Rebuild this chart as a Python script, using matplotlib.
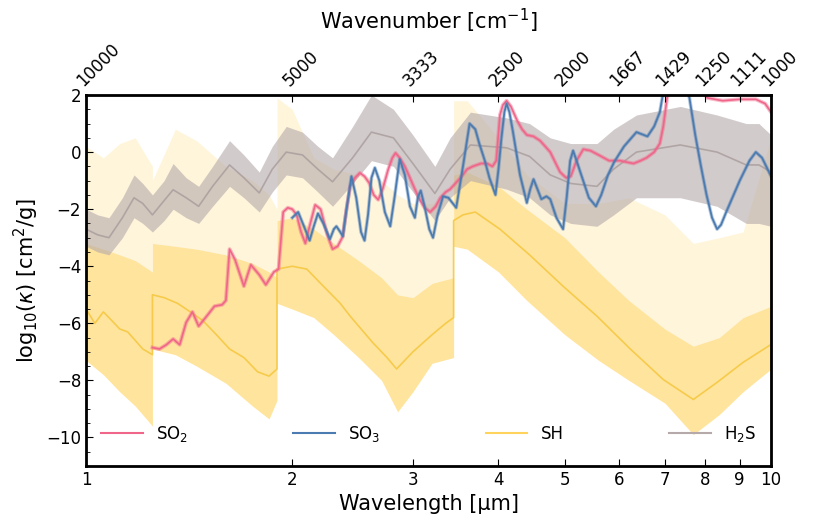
import numpy as np
import matplotlib
matplotlib.use("Agg")
import matplotlib.pyplot as plt
from matplotlib.ticker import AutoMinorLocator, FixedLocator, FixedFormatter, NullLocator

# ---------------- data ----------------
# H2S: smoothed curve and noisy band envelope
h2s_wl = [1.00, 1.04, 1.08, 1.13, 1.175, 1.21, 1.25, 1.30, 1.34, 1.40, 1.46, 1.53, 1.62, 1.70,
          1.79, 1.87, 1.96, 2.07, 2.18, 2.29, 2.45, 2.61, 2.81, 3.0, 3.23, 3.4, 3.64, 4.11,
          4.44, 4.76, 5.1, 5.57, 5.89, 6.36, 7.37, 8.34, 9.2, 9.6, 10.0]
h2s_smooth = [-2.7, -2.9, -3.0, -2.3, -1.6, -1.8, -2.2, -1.7, -1.32, -1.6, -1.9, -1.2, -0.45, -0.9,
              -1.43, -0.6, 0.0, -0.1, -0.6, -1.04, -0.2, 0.7, 0.5, -0.4, -1.45, -0.6, 0.25, 0.15,
              -0.15, -0.8, -1.1, -1.2, -0.6, 0.0, 0.25, 0.0, -0.45, -0.45, -0.7]
h2s_lo = [-3.3, -3.5, -3.6, -3.0, -2.3, -2.5, -2.8, -2.4, -2.0, -2.3, -2.5, -1.9, -1.2, -1.6,
          -2.1, -1.4, -0.8, -0.9, -1.4, -1.9, -1.1, -0.3, -0.5, -1.4, -2.4, -1.6, -1.0, -1.3,
          -1.6, -2.2, -2.5, -2.6, -2.2, -1.6, -1.6, -1.9, -2.5, -2.5, -2.6]
h2s_hi = [-2.0, -2.2, -2.3, -1.6, -0.8, -1.1, -1.5, -1.0, -0.4, -0.9, -1.2, -0.5, 0.4, -0.1,
          -0.7, 0.2, 0.9, 0.7, 0.2, -0.2, 0.9, 2.0, 1.5, 0.6, -0.5, 0.5, 1.4, 1.2,
          1.0, 0.5, 0.3, 0.3, 0.8, 1.3, 1.6, 1.3, 1.0, 1.0, 0.6]

# SO2
so2_wl = [1.25, 1.28, 1.31, 1.34, 1.37, 1.40, 1.43, 1.46, 1.50, 1.54, 1.58, 1.60, 1.62, 1.65,
          1.70, 1.74, 1.79, 1.83, 1.88, 1.91, 1.94, 1.97, 2.00, 2.03, 2.06, 2.09, 2.12, 2.16,
          2.20, 2.25, 2.29, 2.33, 2.37, 2.40, 2.43, 2.47, 2.51, 2.55, 2.59, 2.63, 2.67, 2.71,
          2.76, 2.80, 2.83, 2.87, 2.92, 2.97, 3.02, 3.07, 3.12, 3.18, 3.24, 3.29, 3.35, 3.40,
          3.46, 3.52, 3.60, 3.67, 3.77, 3.85, 3.92, 3.97, 4.02, 4.06, 4.11, 4.17, 4.26, 4.33,
          4.40, 4.50, 4.60, 4.68, 4.76, 4.85, 4.92, 5.02, 5.10, 5.20, 5.32, 5.45, 5.60, 5.80,
          6.02, 6.15, 6.30, 6.45, 6.58, 6.75, 6.88, 6.96, 7.05, 7.20, 7.60, 7.90, 8.07, 8.50,
          9.00, 9.50, 9.80, 10.0]
so2_val = [-6.85, -6.9, -6.75, -6.55, -6.75, -5.97, -5.6, -6.1, -5.75, -5.4, -5.35, -5.2, -3.4, -3.77,
           -4.7, -3.95, -4.3, -4.65, -4.2, -4.1, -2.1, -1.95, -2.0, -2.2, -2.8, -3.2, -2.6, -1.85,
           -2.0, -2.9, -3.4, -3.3, -2.96, -2.0, -1.2, -0.9, -0.73, -0.85, -1.08, -1.5, -1.67, -1.3,
           -0.62, -0.2, -0.03, -0.2, -0.5, -0.9, -1.3, -1.67, -1.95, -2.1, -1.9, -1.6, -1.4, -1.3,
           -1.1, -0.9, -0.6, -0.5, -0.4, -0.4, -0.5, -0.3, 1.3, 1.65, 1.8, 1.6, 1.1, 0.8,
           0.6, 0.55, 0.4, 0.2, 0.0, -0.4, -0.7, -0.9, -0.85, -0.3, 0.1, 0.05, -0.1, -0.3,
           -0.3, -0.35, -0.4, -0.3, -0.2, 0.0, 0.3, 0.9, 1.9, 2.6, 2.8, 2.3, 1.9, 1.8,
           1.85, 1.85, 1.7, 1.4]

# SO3
so3_wl = [2.00, 2.04, 2.08, 2.12, 2.15, 2.18, 2.22, 2.27, 2.30, 2.32, 2.35, 2.37, 2.40, 2.44,
          2.48, 2.52, 2.55, 2.58, 2.61, 2.64, 2.68, 2.73, 2.78, 2.82, 2.87, 2.92, 2.97, 3.02,
          3.05, 3.08, 3.12, 3.17, 3.21, 3.26, 3.32, 3.38, 3.47, 3.55, 3.63, 3.70, 3.75, 3.82,
          3.88, 3.96, 4.00, 4.04, 4.08, 4.11, 4.15, 4.20, 4.30, 4.40, 4.45, 4.50, 4.56, 4.62,
          4.70, 4.76, 4.86, 4.97, 5.03, 5.09, 5.14, 5.20, 5.30, 5.42, 5.55, 5.65, 5.78, 5.90,
          6.10, 6.36, 6.60, 6.75, 6.88, 6.96, 7.05, 7.35, 7.50, 7.60, 7.75, 7.90, 8.05, 8.20,
          8.34, 8.45, 8.60, 9.00, 9.30, 9.50, 9.70, 10.0]
so3_val = [-2.3, -2.1, -2.6, -3.1, -2.6, -2.15, -2.5, -3.05, -2.7, -2.6, -2.8, -2.95, -2.0, -0.85,
           -1.6, -2.8, -3.1, -2.2, -0.9, -0.55, -1.0, -2.1, -2.6, -1.6, -0.25, -0.8, -1.9, -2.3,
           -1.6, -1.35, -1.9, -2.7, -3.0, -2.2, -1.55, -1.6, -1.95, -0.5, 1.0, 0.8, 0.3, -0.3,
           -0.9, -1.5, -0.6, 0.5, 1.4, 1.7, 1.4, 0.7, -0.8, -1.78, -1.3, -0.95, -1.3, -1.65,
           -1.55, -1.65, -2.3, -2.7, -1.6, -0.3, 0.05, -0.3, -0.9, -1.6, -1.9, -1.5, -0.8, -0.35,
           0.2, 0.7, 0.55, 0.9, 1.4, 2.1, 2.6, 2.8, 2.4, 1.9, 0.6, -0.5, -1.5, -2.3,
           -2.7, -2.55, -2.1, -1.0, -0.3, 0.0, -0.2, -0.85]

# SH: smoothed curve
sh_wl = [1.00, 1.03, 1.06, 1.09, 1.12, 1.15, 1.18, 1.21, 1.25, 1.25, 1.30, 1.36, 1.42, 1.48,
         1.55, 1.62, 1.70, 1.78, 1.85, 1.90, 1.90, 2.00, 2.10, 2.20, 2.35, 2.43, 2.62, 2.75,
         2.84, 3.00, 3.20, 3.35, 3.44, 3.44, 3.55, 3.70, 4.02, 4.44, 4.97, 5.57, 6.23, 6.96,
         7.70, 8.34, 9.10, 10.0]
sh_smooth = [-5.5, -6.0, -5.6, -5.9, -6.2, -6.3, -6.6, -6.9, -7.1, -5.0, -5.1, -5.3, -5.6, -5.9,
             -6.4, -6.9, -7.2, -7.7, -7.85, -7.6, -4.1, -4.0, -4.1, -4.6, -5.3, -5.75, -6.67, -7.2,
             -7.6, -7.0, -6.4, -6.0, -5.8, -2.4, -2.2, -2.1, -2.7, -3.6, -4.7, -5.75, -6.9, -7.97,
             -8.67, -8.07, -7.37, -6.74]
# SH: band (dense core and spike tops)
shb_wl = [1.00, 1.06, 1.12, 1.18, 1.25, 1.25, 1.35, 1.45, 1.60, 1.75, 1.85, 1.90, 1.90, 2.00,
          2.15, 2.30, 2.50, 2.70, 2.85, 3.00, 3.20, 3.44, 3.44, 3.60, 4.00, 4.40, 5.00, 5.60,
          6.20, 7.00, 7.70, 8.40, 9.10, 10.0]
shb_lo = [-7.3, -7.8, -8.4, -8.9, -9.6, -6.9, -7.1, -7.5, -8.1, -8.9, -9.35, -8.7, -5.3, -5.5,
          -5.8, -6.4, -7.2, -8.0, -9.1, -8.4, -7.4, -7.2, -3.3, -3.4, -4.2, -5.2, -6.4, -7.3,
          -8.0, -8.8, -9.9, -9.2, -8.4, -7.6]
shb_hi = [-3.2, -3.4, -3.6, -3.8, -4.2, -3.2, -3.3, -3.4, -3.6, -3.9, -4.2, -4.4, -2.4, -2.3,
          -2.7, -3.2, -3.8, -4.4, -5.0, -5.1, -4.6, -4.4, -0.8, -0.7, -1.2, -2.0, -3.0, -4.2,
          -5.2, -6.2, -6.8, -6.5, -5.8, -5.4]
shb_spk = [0.2, -0.2, 0.3, 0.5, -0.5, -1.0, 0.8, 0.4, -0.5, -1.0, -1.5, -2.0, 1.9, 1.5,
           -0.2, -0.6, -0.8, -1.0, -1.5, -1.8, -1.8, -1.5, 1.8, 1.8, 0.5, -0.8, -1.8, -1.8,
           -1.6, -2.2, -3.2, -3.0, -2.8, 0.5]

legend_labels = ["SO$_2$", "SO$_3$", "SH", "H$_2$S"]
xticks_wl = [1, 2, 3, 4, 5, 6, 7, 8, 9, 10]
top_labels = ["10000", "5000", "3333", "2500", "2000", "1667", "1429", "1250", "1111", "1000"]

# ---------------- styling ----------------
c_so2 = "#F0668A"
c_so3 = "#4B7BB0"
c_sh = "#FFD35C"
c_sh_line = "#F5C842"
c_h2s = "#B5A9A9"

fig = plt.figure(figsize=(8.21, 5.23), dpi=100)
ax = fig.add_axes([0.1048, 0.109, 0.8344, 0.7093])

# SH
ax.fill_between(shb_wl, shb_hi, shb_spk, color=c_sh, alpha=0.22, lw=0)
ax.fill_between(shb_wl, shb_lo, shb_hi, color=c_sh, alpha=0.6, lw=0)
ax.plot(sh_wl, sh_smooth, color=c_sh_line, lw=1.2, alpha=0.9)

# H2S
ax.fill_between(h2s_wl, h2s_lo, h2s_hi, color=c_h2s, alpha=0.6, lw=0)
ax.plot(h2s_wl, h2s_smooth, color="#A89C9C", lw=1.2, alpha=0.8)

# SO2
ax.plot(so2_wl, so2_val, color=c_so2, lw=2.8, alpha=0.45, solid_joinstyle="round")
ax.plot(so2_wl, so2_val, color=c_so2, lw=1.2, solid_joinstyle="round")

# SO3
ax.plot(so3_wl, so3_val, color=c_so3, lw=2.6, alpha=0.4, solid_joinstyle="round")
ax.plot(so3_wl, so3_val, color=c_so3, lw=1.3, solid_joinstyle="round")

ax.set_xscale("log")
ax.set_xlim(1, 10)
ax.set_ylim(-11, 2)
ax.xaxis.set_major_locator(FixedLocator(xticks_wl))
ax.xaxis.set_major_formatter(FixedFormatter([str(v) for v in xticks_wl]))
ax.xaxis.set_minor_locator(NullLocator())
ax.yaxis.set_major_locator(FixedLocator([-10, -8, -6, -4, -2, 0, 2]))
ax.yaxis.set_minor_locator(AutoMinorLocator(4))
ax.tick_params(axis="both", which="both", direction="in", labelsize=12)
ax.tick_params(axis="both", which="major", length=5)
ax.tick_params(axis="y", which="minor", length=3)
for s in ax.spines.values():
    s.set_linewidth(2)

ax.set_xlabel("Wavelength [µm]", fontsize=15, labelpad=4)
ax.set_ylabel("log$_{10}$($\\kappa$) [cm$^2$/g]", fontsize=15, labelpad=4)

# top axis
ax2 = ax.twiny()
ax2.set_xscale("log")
ax2.set_xlim(1, 10)
ax2.xaxis.set_major_locator(FixedLocator(xticks_wl))
ax2.xaxis.set_major_formatter(FixedFormatter(top_labels))
ax2.xaxis.set_minor_locator(NullLocator())
ax2.tick_params(axis="x", which="both", direction="in", labelsize=12, length=5)
for lab in ax2.get_xticklabels():
    lab.set_rotation(45)
    lab.set_ha("left")
    lab.set_rotation_mode("anchor")
ax2.set_xlabel("Wavenumber [cm$^{-1}$]", fontsize=15, labelpad=8)

# legend
handles = [
    plt.Line2D([], [], color=c_so2, lw=1.5),
    plt.Line2D([], [], color=c_so3, lw=1.5),
    plt.Line2D([], [], color=c_sh, lw=1.5),
    plt.Line2D([], [], color=c_h2s, lw=1.5),
]
ax.legend(handles, legend_labels, loc="lower left", bbox_to_anchor=(0.0, 0.02, 1.0, 0.08),
          ncol=4, mode="expand", frameon=False, fontsize=12, handlelength=2.5)

fig.savefig("out.png", dpi=100)
